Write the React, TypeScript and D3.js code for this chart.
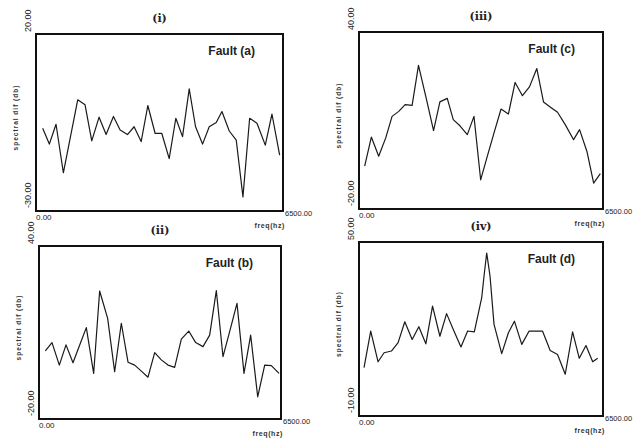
import React from "react";
import * as d3 from "d3";

// ---- data ----
const freqA = [176, 351, 527, 720, 1098, 1291, 1467, 1660, 1845, 2038, 2214, 2407, 2582, 2767, 2943, 3136, 3311, 3505, 3680, 3856, 4032, 4199, 4383, 4559, 4743, 4893, 5086, 5270, 5446, 5622, 5815, 6034, 6209, 6412];
const valA = [-6.6, -11.1, -5.5, -19.2, 1.4, 0.0, -10.2, -3.5, -8.4, -3.3, -7.1, -8.4, -6.2, -10.4, -0.2, -8.1, -8.1, -15.2, -3.8, -9.0, 4.5, -6.2, -11.1, -6.2, -5.0, -1.9, -7.4, -10.0, -26.0, -3.8, -5.2, -11.4, -2.6, -14.2];

const freqB = [170, 349, 546, 725, 913, 1083, 1271, 1468, 1629, 1844, 2032, 2211, 2391, 2570, 2749, 2928, 3107, 3286, 3465, 3644, 3823, 4022, 4208, 4405, 4584, 4763, 4942, 5121, 5318, 5506, 5685, 5874, 6062, 6241, 6447];
const valB = [3.6, 6.5, -1.3, 5.7, -0.5, 5.3, 11.7, -4.2, 24.4, 14.9, -3.6, 13.2, -0.3, -1.3, -3.4, -5.5, 3.0, 0.5, -1.3, -2.1, 7.7, 10.5, 6.5, 5.1, 9.1, 24.5, 1.6, 10.3, 20.1, -4.2, 9.1, -12.3, -1.3, -1.5, -4.2];

const freqC = [151, 329, 525, 712, 881, 1059, 1229, 1415, 1585, 1799, 1986, 2155, 2351, 2511, 2689, 2885, 3063, 3241, 3419, 3597, 3784, 3980, 4158, 4354, 4541, 4737, 4915, 5093, 5289, 5494, 5716, 5876, 6072, 6251, 6429];
const valC = [-5.5, 4.4, -2.1, 4.1, 11.4, 13.1, 15.4, 15.1, 28.7, 17.1, 6.6, 16.3, 17.5, 10.3, 8.2, 5.2, 11.4, -10.1, -2.1, 5.8, 13.9, 12.2, 22.9, 18.4, 21.4, 27.6, 16.3, 14.6, 12.8, 8.6, 3.5, 6.9, -0.5, -11.2, -8.0];

const freqD = [134, 312, 508, 668, 864, 1042, 1220, 1416, 1594, 1781, 1959, 2155, 2333, 2529, 2716, 2894, 3072, 3268, 3330, 3402, 3491, 3597, 3802, 3980, 4140, 4336, 4532, 4710, 4888, 5093, 5289, 5494, 5690, 5868, 6046, 6225, 6358];
const valD = [6.7, 19.3, 8.7, 11.8, 12.4, 15.3, 22.5, 16.4, 20.8, 14.9, 27.9, 17.5, 25.3, 19.3, 13.8, 19.3, 19.0, 30.7, 38.2, 46.2, 38.2, 21.6, 11.5, 18.7, 22.7, 14.7, 19.3, 19.3, 19.3, 12.6, 11.2, 4.4, 19.0, 9.9, 14.3, 8.7, 9.9];

const yMinLabels = ["-30.00", "-20.00", "-20.00", "-10.00"];
const yMaxLabels = ["20.00", "40.00", "40.00", "50.00"];
const yMins = [-30, -20, -20, -10];
const yMaxs = [20, 40, 40, 50];
const romanLabels = ["(i)", "(ii)", "(iii)", "(iv)"];
const faultLabels = ["Fault (a)", "Fault (b)", "Fault (c)", "Fault (d)"];
const xMinLabel = "0.00";
const xMaxLabel = "6500.00";
const xMax = 6500;

const seriesFreq = [freqA, freqB, freqC, freqD];
const seriesVal = [valA, valB, valC, valD];

// panel boxes: left, top, right, bottom
const boxes = [
  [36, 34, 283, 211],
  [39, 246, 281, 419],
  [359, 32, 603, 209],
  [359, 242, 603, 416],
];

function Panel({ i }: { i: number }) {
  const [l, t, r, b] = boxes[i];
  const x = d3.scaleLinear().domain([0, xMax]).range([l, r]);
  const y = d3.scaleLinear().domain([yMins[i], yMaxs[i]]).range([b, t]);
  const pts = seriesFreq[i].map((f, k) => [f, seriesVal[i][k]] as [number, number]);
  const line = d3
    .line<[number, number]>()
    .x((d) => x(d[0]))
    .y((d) => y(d[1]));
  const midX = (l + r) / 2;
  const labX = l - 5;
  return (
    <g>
      <rect x={l} y={t} width={r - l} height={b - t} fill="none" stroke="#111" strokeWidth={2} />
      <path d={line(pts) || ""} fill="none" stroke="#1a1a1a" strokeWidth={1.2} strokeLinejoin="round" />
      <text x={midX} y={t - 12} textAnchor="middle" fontFamily="DejaVu Serif" fontWeight="bold" fontSize={11} fill="#222">
        {romanLabels[i]}
      </text>
      <text x={r - 28} y={t + 21} textAnchor="end" fontFamily="Liberation Sans" fontWeight="bold" fontSize={12} fill="#222">
        {faultLabels[i]}
      </text>
      <text transform={`translate(${labX},${t - 2}) rotate(-90)`} textAnchor="start" fontFamily="Liberation Sans" fontSize={9} fill="#222">
        {yMaxLabels[i]}
      </text>
      <text transform={`translate(${labX},${b - 3}) rotate(-90)`} textAnchor="start" fontFamily="Liberation Sans" fontSize={9} fill="#222">
        {yMinLabels[i]}
      </text>
      <text transform={`translate(${l - 18},${(t + b) / 2 - 5}) rotate(-90)`} textAnchor="middle" fontFamily="Liberation Sans" fontWeight="bold" fontSize={6.5} letterSpacing={1} fill="#333">
        spectral dif (db)
      </text>
      <text x={l} y={b + 9} fontFamily="Liberation Sans" fontSize={8} fill="#222">
        {xMinLabel}
      </text>
      <text x={r + 2} y={b + 5} fontFamily="Liberation Sans" fontSize={7.5} fill="#222">
        {xMaxLabel}
      </text>
      <text x={r + 2} y={b + 17} textAnchor="end" fontFamily="Liberation Sans" fontWeight="bold" fontSize={7} letterSpacing={0.6} fill="#333">
        freq(hz)
      </text>
    </g>
  );
}

export default function App() {
  return (
    <svg width={640} height={438} style={{ position: "absolute", left: 0, top: 0, background: "#fff" }}>
      {[0, 1, 2, 3].map((i) => (
        <Panel key={i} i={i} />
      ))}
    </svg>
  );
}
